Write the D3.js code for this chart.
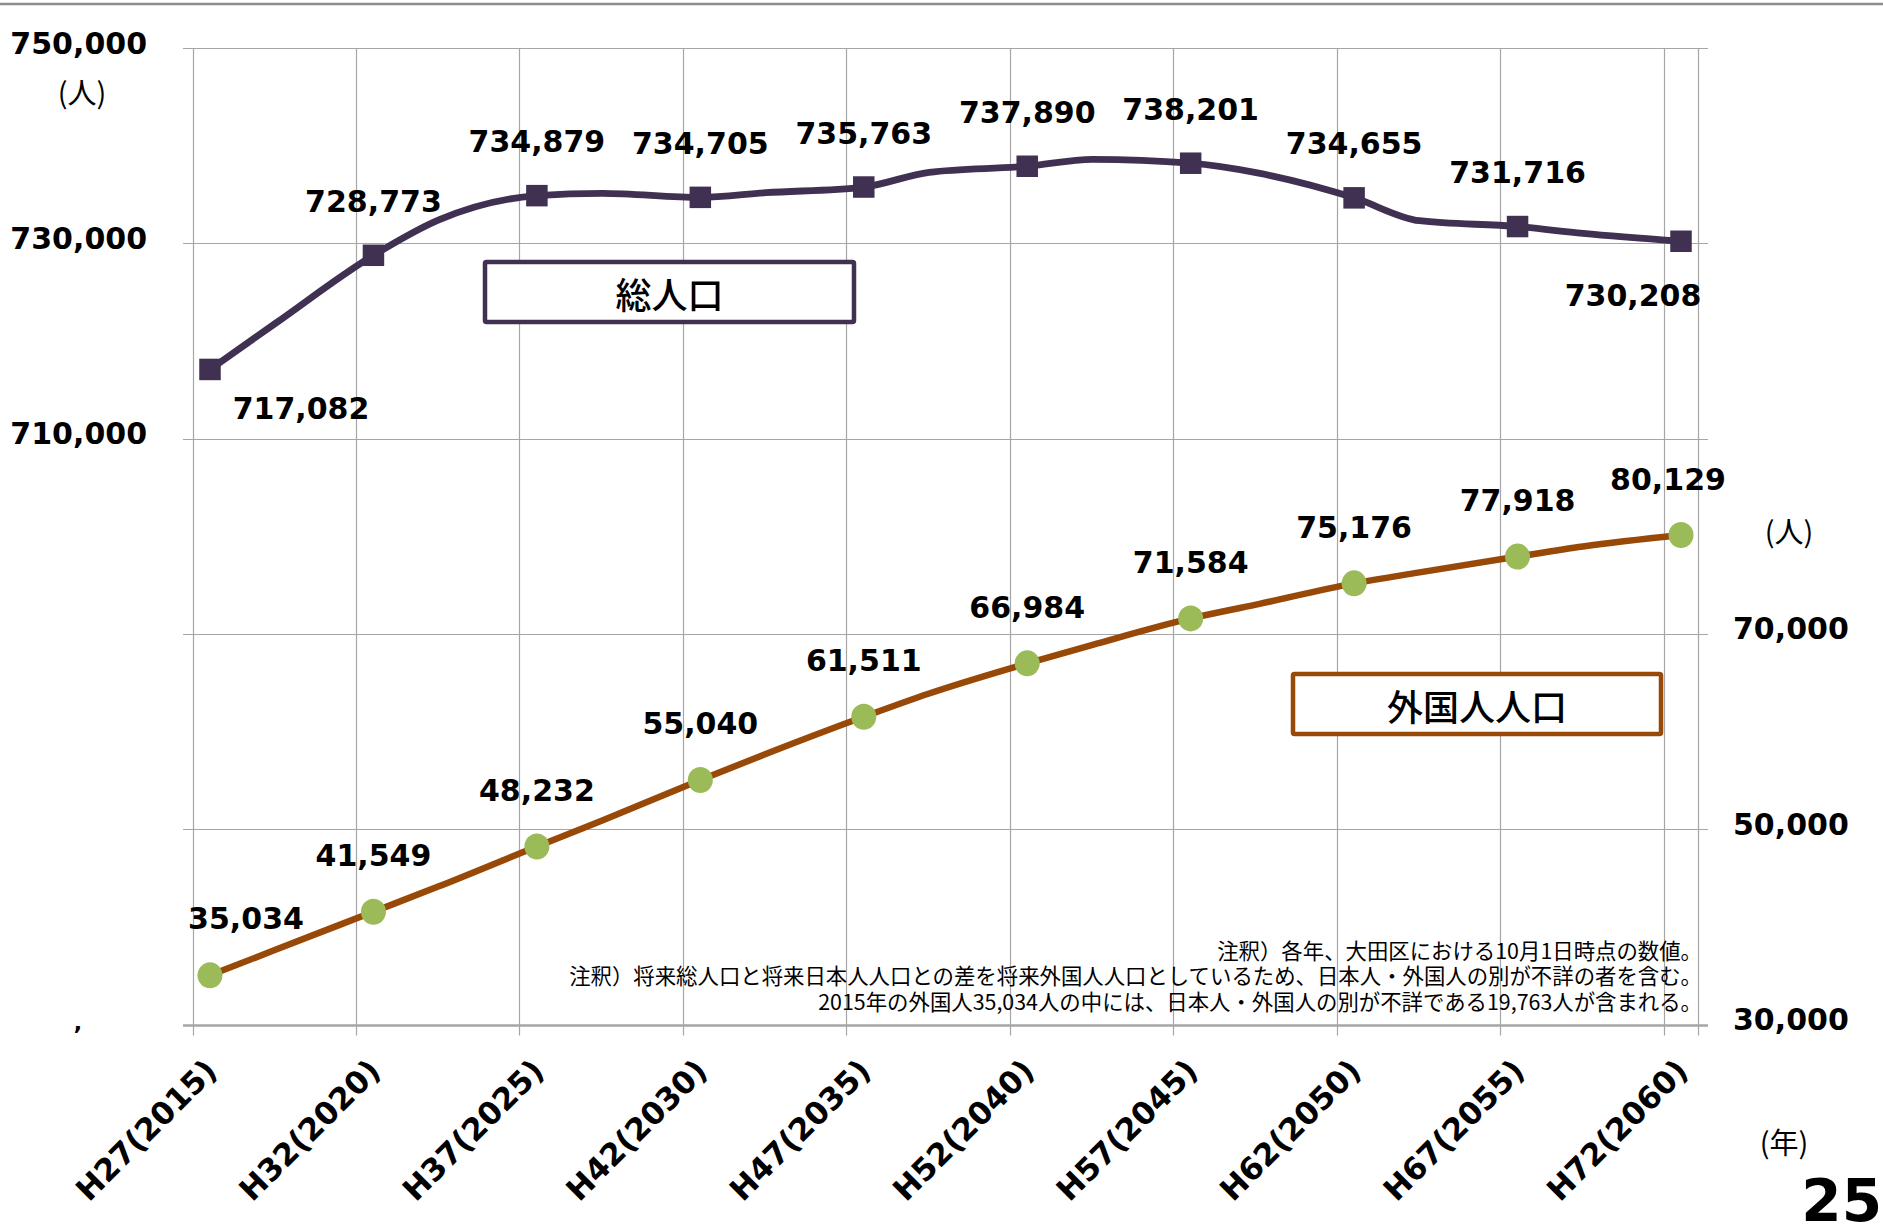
<!DOCTYPE html>
<html>
<head>
<meta charset="utf-8">
<script src="https://cdn.jsdelivr.net/npm/d3@7"></script>
<style>
  html, body { margin: 0; padding: 0; background: #fff; overflow: hidden; }
  svg { display: block; }
  .num { font-family: "DejaVu Sans", Verdana, sans-serif; font-weight: bold; fill: #000; }
  .jp { font-family: "Noto Sans CJK JP", "Noto Sans", sans-serif; fill: #000; }
</style>
</head>
<body>
<script>
// ---- data ----
const categories = ["H27(2015)", "H32(2020)", "H37(2025)", "H42(2030)", "H47(2035)",
                    "H52(2040)", "H57(2045)", "H62(2050)", "H67(2055)", "H72(2060)"];
const years = [2015, 2020, 2025, 2030, 2035, 2040, 2045, 2050, 2055, 2060];
const totalPop = [717082, 728773, 734879, 734705, 735763, 737890, 738201, 734655, 731716, 730208];
const foreignPop = [35034, 41549, 48232, 55040, 61511, 66984, 71584, 75176, 77918, 80129];
// intermediate (unlabelled) points of the smoothed lines
const midYears = [2017, 2022, 2027, 2032, 2037, 2042, 2047, 2052, 2057];
const totalMid = [721800, 732400, 735120, 735180, 737270, 738600, 737230, 732310, 731020];
const foreignMid = [37650, 44150, 50900, 57700, 63900, 68880, 73000, 76300, 78950];
const leftTicks = [750000, 730000, 710000];
const rightTicks = [70000, 50000, 30000];
const seriesNames = ["総人口", "外国人人口"];
const notes = [
  "注釈）各年、大田区における10月1日時点の数値。",
  "注釈）将来総人口と将来日本人人口との差を将来外国人人口としているため、日本人・外国人の別が不詳の者を含む。",
  "2015年の外国人35,034人の中には、日本人・外国人の別が不詳である19,763人が含まれる。"
];
const unitLabel = "(人)";
const yearUnit = "(年)";
const pageNo = "25";

// ---- layout ----
const W = 1883, H = 1225;
const purple = "#403152", brown = "#984807", green = "#9bbb59", grid = "#a6a6a6";

const svg = d3.select("body").append("svg").attr("width", W).attr("height", H);

const x = d3.scaleLinear().domain([2015, 2060]).range([210, 1681]);
const yL = d3.scaleLinear().domain([650000, 750000]).range([1024.5, 48]);
const yR = d3.scaleLinear().domain([30000, 130000]).range([1024.5, 48]);
const gridOffset = -17.5;
const plotLeft = 183, plotRight = x(2060) + 17, gridRight = plotRight + 10;
const plotTop = yL(750000), plotBottom = yL(650000);

// top border line
svg.append("line").attr("x1", 0).attr("x2", W).attr("y1", 4).attr("y2", 4)
  .attr("stroke", "#8c8c8c").attr("stroke-width", 2.5);

// horizontal gridlines
const hTicks = d3.range(650000, 750001, 20000);
svg.append("g").selectAll("line").data(hTicks).join("line")
  .attr("x1", plotLeft).attr("x2", gridRight)
  .attr("y1", d => Math.round(yL(d)) + 0.5).attr("y2", d => Math.round(yL(d)) + 0.5)
  .attr("stroke", grid).attr("stroke-width", d => d === 650000 ? 2.5 : 1.2);

// vertical gridlines
const vLines = years.map(y => x(y) + gridOffset).concat([plotRight]);
svg.append("g").selectAll("line").data(vLines).join("line")
  .attr("x1", d => Math.round(d) + 0.5).attr("x2", d => Math.round(d) + 0.5)
  .attr("y1", plotTop).attr("y2", plotBottom + 11)
  .attr("stroke", grid).attr("stroke-width", 1.2);

// left axis labels
svg.append("g").selectAll("text").data(leftTicks).join("text")
  .attr("class", "num").attr("font-size", 30)
  .attr("x", 147).attr("y", d => yL(d) - 5)
  .attr("text-anchor", "end").attr("dominant-baseline", "central")
  .text(d => d3.format(",")(d));
svg.append("text").attr("class", "jp").attr("font-size", 29)
  .attr("x", 82).attr("y", 91).attr("text-anchor", "middle").attr("dominant-baseline", "central")
  .text(unitLabel);
// stray comma remnant at bottom-left
svg.append("text").attr("class", "num").attr("font-size", 22)
  .attr("x", 78).attr("y", 1030).attr("text-anchor", "middle").text(",");

// right axis labels
svg.append("g").selectAll("text").data(rightTicks).join("text")
  .attr("class", "num").attr("font-size", 30)
  .attr("x", 1733).attr("y", d => yR(d) - 5)
  .attr("text-anchor", "start").attr("dominant-baseline", "central")
  .text(d => d3.format(",")(d));
svg.append("text").attr("class", "jp").attr("font-size", 29)
  .attr("x", 1789).attr("y", 530).attr("text-anchor", "middle").attr("dominant-baseline", "central")
  .text(unitLabel);

// category labels
svg.append("g").selectAll("text").data(categories).join("text")
  .attr("class", "num").attr("font-size", 31)
  .attr("text-anchor", "end").attr("dominant-baseline", "central")
  .attr("transform", (d, i) => `translate(${x(years[i]) + 1},${1065}) rotate(-45)`)
  .text(d => d);
svg.append("text").attr("class", "jp").attr("font-size", 29)
  .attr("x", 1784).attr("y", 1141).attr("text-anchor", "middle").attr("dominant-baseline", "central")
  .text(yearUnit);
svg.append("text").attr("class", "num").attr("font-size", 58)
  .attr("x", 1882).attr("y", 1221).attr("text-anchor", "end").text(pageNo);

// footnotes
svg.append("g").selectAll("text").data(notes).join("text")
  .attr("class", "jp").attr("font-size", 21.4).attr("fill", "#1a1a1a")
  .attr("x", 1702).attr("y", (d, i) => 949 + i * 25.5)
  .attr("text-anchor", "end").attr("dominant-baseline", "central")
  .text(d => d);

// ---- series ----
function merged(mainY, mainV, midY, midV) {
  return mainY.map((y, i) => [y, mainV[i]]).concat(midY.map((y, i) => [y, midV[i]]))
    .sort((a, b) => a[0] - b[0]);
}
const totalLine = d3.line().x(d => x(d[0])).y(d => yL(d[1])).curve(d3.curveMonotoneX);
const foreignLine = d3.line().x(d => x(d[0])).y(d => yR(d[1])).curve(d3.curveMonotoneX);

svg.append("path").datum(merged(years, totalPop, midYears, totalMid))
  .attr("d", totalLine).attr("fill", "none").attr("stroke", purple)
  .attr("stroke-width", 6.8).attr("stroke-linejoin", "round");
svg.append("path").datum(merged(years, foreignPop, midYears, foreignMid))
  .attr("d", foreignLine).attr("fill", "none").attr("stroke", brown)
  .attr("stroke-width", 6.5).attr("stroke-linejoin", "round");

const sq = 21.5;
svg.append("g").selectAll("rect").data(totalPop).join("rect")
  .attr("x", (d, i) => x(years[i]) - sq / 2).attr("y", d => yL(d) - sq / 2)
  .attr("width", sq).attr("height", sq).attr("fill", purple);
svg.append("g").selectAll("ellipse").data(foreignPop).join("ellipse")
  .attr("cx", (d, i) => x(years[i])).attr("cy", d => yR(d))
  .attr("rx", 12.5).attr("ry", 13).attr("fill", green);

// data labels
const totalLabelOffset = (i) => i === 0 ? [91, 39] : (i === 9 ? [-48, 54] : [0, -54]);
svg.append("g").selectAll("text").data(totalPop).join("text")
  .attr("class", "num").attr("font-size", 30)
  .attr("x", (d, i) => x(years[i]) + totalLabelOffset(i)[0])
  .attr("y", (d, i) => yL(d) + totalLabelOffset(i)[1])
  .attr("text-anchor", "middle").attr("dominant-baseline", "central")
  .text(d => d3.format(",")(d));
const foreignLabelOffset = (i) => i === 0 ? [36, -57] : (i === 9 ? [-13, -55] : [0, -56]);
svg.append("g").selectAll("text").data(foreignPop).join("text")
  .attr("class", "num").attr("font-size", 30)
  .attr("x", (d, i) => x(years[i]) + foreignLabelOffset(i)[0])
  .attr("y", (d, i) => yR(d) + foreignLabelOffset(i)[1])
  .attr("text-anchor", "middle").attr("dominant-baseline", "central")
  .text(d => d3.format(",")(d));

// series name boxes
const boxes = [
  { name: seriesNames[0], color: purple, x0: 485, y0: 262, x1: 854, y1: 322 },
  { name: seriesNames[1], color: brown, x0: 1293, y0: 674, x1: 1661, y1: 734 }
];
const bg = svg.append("g").selectAll("g").data(boxes).join("g");
bg.append("rect").attr("x", d => d.x0).attr("y", d => d.y0)
  .attr("width", d => d.x1 - d.x0).attr("height", d => d.y1 - d.y0)
  .attr("fill", "#fff").attr("stroke", d => d.color).attr("stroke-width", 4.5).attr("rx", 1.5);
bg.append("text").attr("class", "jp").attr("font-size", 36).attr("font-weight", 500)
  .attr("x", d => (d.x0 + d.x1) / 2).attr("y", d => (d.y0 + d.y1) / 2 + 1)
  .attr("text-anchor", "middle").attr("dominant-baseline", "central")
  .text(d => d.name);
</script>
</body>
</html>
